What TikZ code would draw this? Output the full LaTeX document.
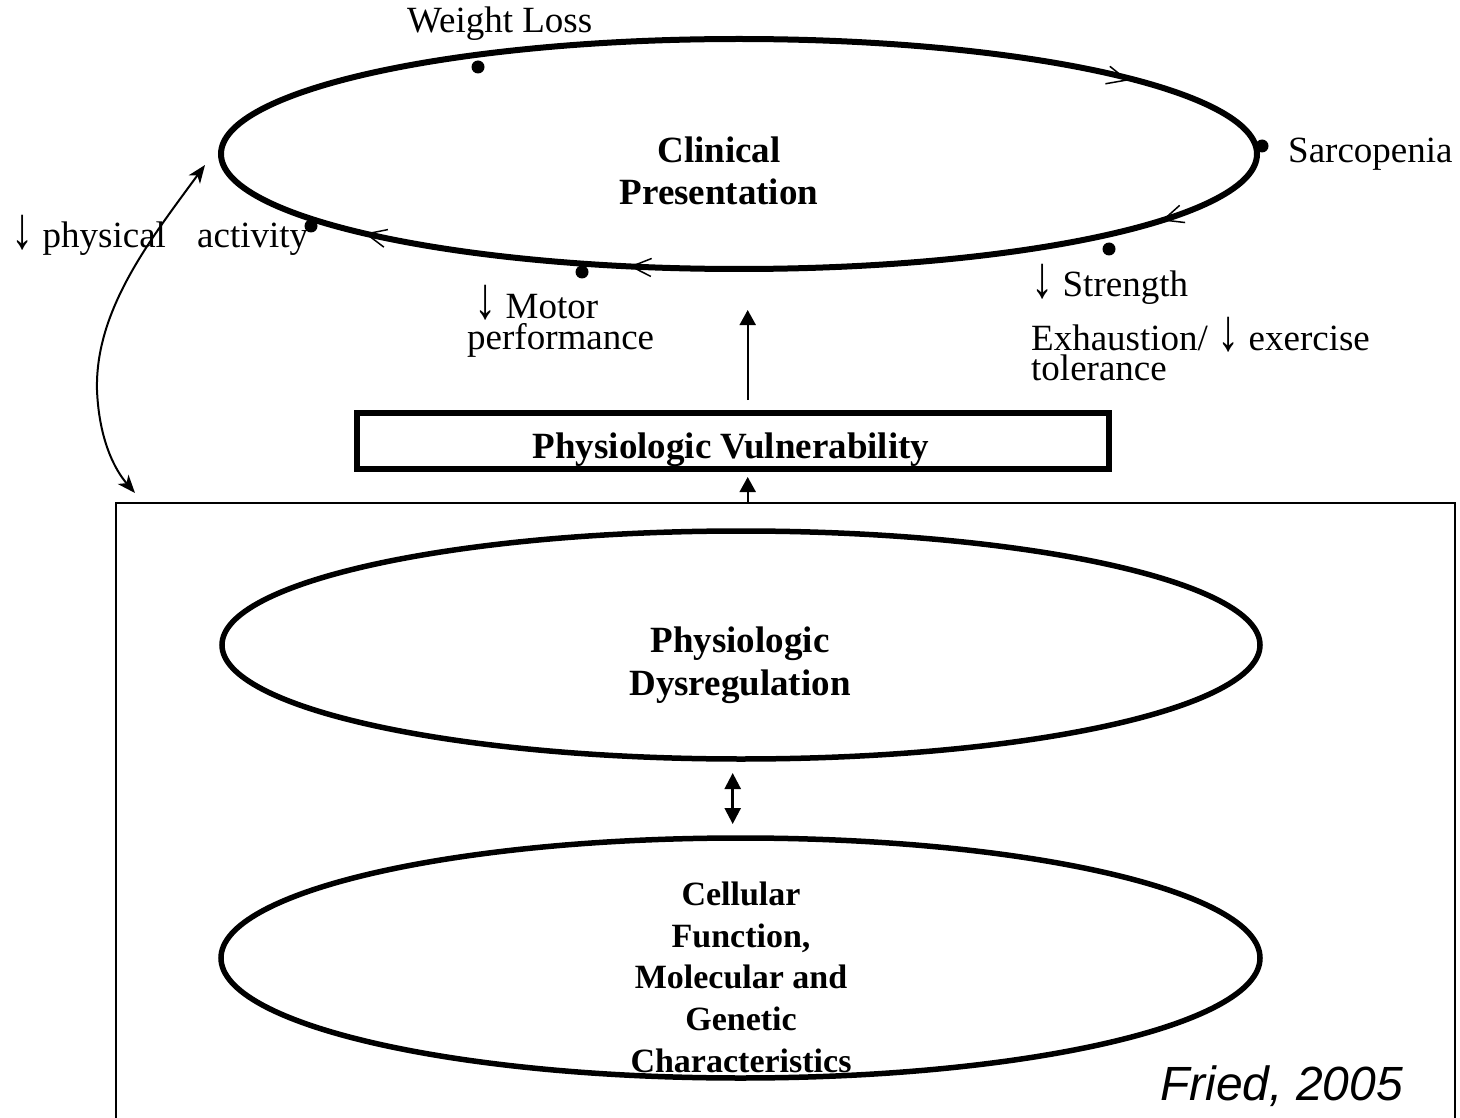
\documentclass[tikz,border=0pt]{standalone}
\usepackage{fontspec}
\usepackage{graphicx}
\setmainfont{Liberation Serif}
\newfontfamily\friedfont{Liberation Sans}
\usetikzlibrary{shapes.geometric,arrows.meta}
\newcommand{\dnarr}{\raisebox{-1pt}{\scalebox{1.2}[1.6]{↓}}}
\tikzset{
  ell/.style={draw, ellipse, line width=5.5pt, inner sep=0pt, outer sep=0pt},
  lbl/.style={font=\fontsize{37}{30}\selectfont, inner sep=0pt, anchor=base west},
  ttl/.style={font=\bfseries\fontsize{37}{42}\selectfont, inner sep=0pt, anchor=base},
  ttls/.style={font=\bfseries\fontsize{34}{40}\selectfont, inner sep=0pt, anchor=base},
  dot/.style={circle, fill, inner sep=0pt, minimum size=13pt},
  chev/.style={line width=1.5pt},
  arr/.style={line width=2pt, -{Triangle[length=15pt,width=16pt]}},
  darr/.style={line width=2.5pt, {Triangle[length=16pt,width=16pt]}-{Triangle[length=16pt,width=16pt]}},
  carr/.style={line width=2pt, {Stealth[length=18pt,width=14pt,inset=5pt]}-{Stealth[length=18pt,width=14pt,inset=5pt]}},
}
\begin{document}
\begin{tikzpicture}[x=1pt,y=1pt]
\useasboundingbox (0,0) rectangle (1460,-1118);

% top ellipse
\node[ell, line width=6pt, minimum width=1036pt, minimum height=230pt] (clin) at (739,-154) {};
\node[ttl] (clin1) at (719,-163) {Clinical};
\node[ttl] (clin2) at (719,-205) {Presentation};

% direction chevrons on the top ellipse
\draw[chev, shift={(1127,-80)}, rotate=-14.3] (-20,9) -- (0,0) -- (-20,-9);
\draw[chev, shift={(1163.3,-220)}, rotate=-162.4] (-20,9) -- (0,0) -- (-20,-9);
\draw[chev, shift={(631.3,-266.5)}, rotate=177.3] (-20,9) -- (0,0) -- (-20,-9);
\draw[chev, shift={(366.4,-233.9)}, rotate=167.1] (-20,9) -- (0,0) -- (-20,-9);

% dots and labels
\node[dot] (dwl) at (478,-67) {};
\node[lbl] (twl) at (407,-33) {Weight Loss};
\node[dot] (dsa) at (1262,-146) {};
\node[lbl] (tsa) at (1288,-163) {Sarcopenia};
\node[dot] (dst) at (1109,-249) {};
\node[lbl] (tst) at (1031,-297) {\dnarr{} Strength};
\node[lbl] (tex1) at (1031,-350) {Exhaustion/ \dnarr{} exercise};
\node[lbl] (tex2) at (1031,-380) {tolerance};
\node[dot] (dmo) at (582,-272) {};
\node[lbl] (tmo1) at (474,-318) {\dnarr{} Motor};
\node[lbl] (tmo2) at (467,-349) {performance};
\node[dot] (dpa) at (311,-226) {};
\node[lbl] (tpa1) at (11,-248) {\dnarr{} physical};
\node[lbl] (tpa2) at (197,-248) {activity};

% physiologic vulnerability box
\node[draw, line width=6pt, minimum width=751.5pt, minimum height=55.5pt, inner sep=0pt] (vuln) at (732.8,-441.2) {};
\node[ttl] (vulnt) at (731,-458) {Physiologic Vulnerability};

% arrows
\coordinate (a1s) at (747.7,-400);
\coordinate (a1e) at (747.7,-310);
\draw[arr] (a1s) -- (a1e);
\coordinate (boxtop) at (747.7,-503);
\coordinate (a2e) at (747.7,-477);
\draw[arr] (boxtop) -- (a2e);

% outer frame (bottom cut off)
\draw[line width=1.3pt] (116,-1130) -- (116,-503) -- (1455,-503) -- (1455,-1130);

% curved double arrow
\coordinate (cu1) at (205,-165);
\coordinate (cum) at (97,-390);
\coordinate (cu2) at (135,-493);
\draw[carr] (cu1) .. controls (150,-240) and (95,-310) .. (cum) .. controls (99,-440) and (115,-470) .. (cu2);

% middle ellipse
\node[ell, minimum width=1038pt, minimum height=228pt] (dys) at (741,-645) {};
\node[ttl] (dys1) at (740,-652) {Physiologic};
\node[ttl] (dys2) at (740,-695) {Dysregulation};

% double arrow
\coordinate (d1) at (732.7,-773);
\coordinate (d2) at (732.7,-824);
\draw[darr] (d1) -- (d2);

% bottom ellipse
\node[ell, minimum width=1039pt, minimum height=240pt] (cell) at (740.5,-958) {};
\node[ttls] (c1) at (741,-905) {Cellular};
\node[ttls] (c2) at (741,-947) {Function,};
\node[ttls] (c3) at (741,-988.5) {Molecular and};
\node[ttls] (c4) at (741,-1030) {Genetic};
\node[ttls] (c5) at (741,-1072) {Characteristics};

% citation
\node[inner sep=0pt, anchor=base west, font=\friedfont\itshape\fontsize{48}{50}\selectfont] (fried) at (1160,-1100) {Fried, 2005};
\end{tikzpicture}
\end{document}
